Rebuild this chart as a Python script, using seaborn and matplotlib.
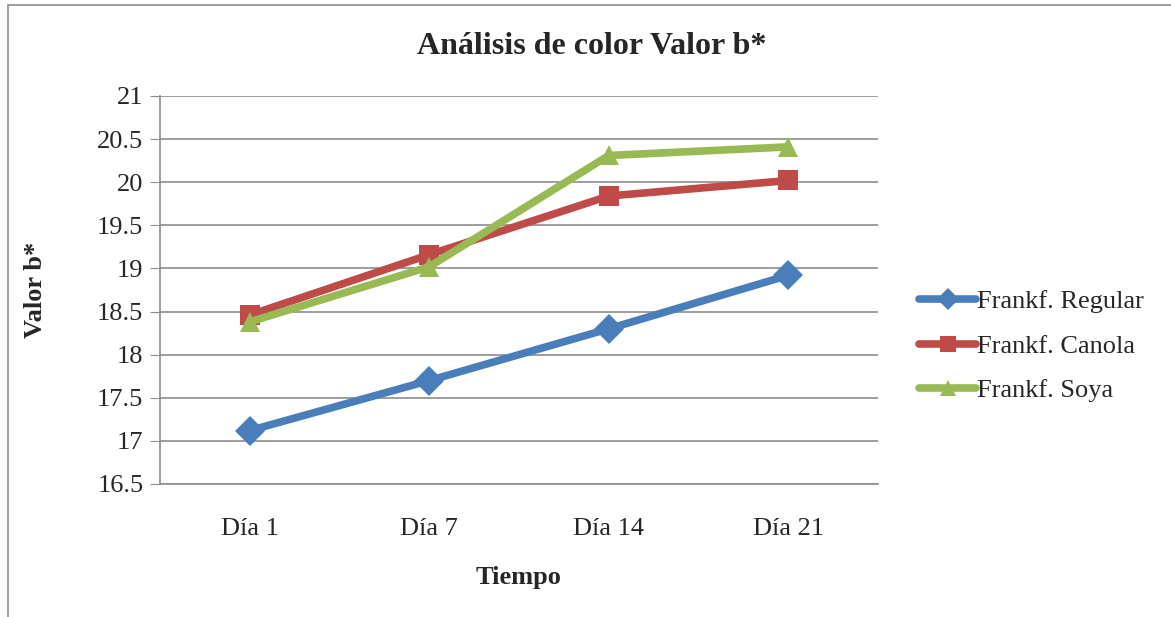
import pandas as pd
import matplotlib.pyplot as plt
import seaborn as sns
from matplotlib.patches import Rectangle

dias = ["Día 1", "Día 7", "Día 14", "Día 21"]
regular = [17.12, 17.70, 18.30, 18.92]
canola = [18.46, 19.16, 19.84, 20.02]
soya = [18.38, 19.02, 20.31, 20.41]
series = ["Frankf. Regular", "Frankf. Canola", "Frankf. Soya"]

colors = {"Frankf. Regular": "#4A7EBB", "Frankf. Canola": "#BE4B48", "Frankf. Soya": "#98B954"}
markers = {"Frankf. Regular": "D", "Frankf. Canola": "s", "Frankf. Soya": "^"}

df = pd.DataFrame({
    "dia": dias * 3,
    "valor": regular + canola + soya,
    "serie": [s for s in series for _ in dias],
})

sns.set_style("white")
plt.rcParams["font.family"] = ["Liberation Serif", "DejaVu Serif"]

fig = plt.figure(figsize=(11.71, 6.17), dpi=100)
ax = fig.add_axes([160 / 1171, 1 - 484 / 617, 718 / 1171, 388 / 617])

# outer chart frame
fig.patches.append(Rectangle((8 / 1171, -0.05), 1.1, 1 - 5 / 617 + 0.05, transform=fig.transFigure,
                             fill=False, edgecolor="#8c8c8c", linewidth=1.2))

sns.lineplot(data=df, x="dia", y="valor", hue="serie", style="serie", palette=colors,
             markers=markers, dashes=False, linewidth=5.5, markersize=15,
             markeredgewidth=0, sort=False, ax=ax, legend=False, zorder=3)

ax.set_xlim(-0.5, 3.5)
ax.set_ylim(16.5, 21)
ax.set_yticks([16.5 + 0.5 * i for i in range(10)])
ax.set_yticklabels(["16.5", "17", "17.5", "18", "18.5", "19", "19.5", "20", "20.5", "21"])
ax.grid(axis="y", color="#8c8c8c", linewidth=1.2)
ax.set_axisbelow(True)
for side in ["top", "right"]:
    ax.spines[side].set_visible(False)
ax.spines["left"].set_color("#8c8c8c")
ax.spines["bottom"].set_color("#8c8c8c")
ax.spines["left"].set_linewidth(1.2)
ax.spines["bottom"].set_linewidth(1.2)
ax.tick_params(axis="y", left=True, length=7, color="#8c8c8c", labelsize=19, pad=5)
ax.tick_params(axis="x", bottom=False, labelsize=19, pad=21)

ax.set_xlabel("Tiempo", fontsize=19, fontweight="bold", labelpad=19)
ax.set_ylabel("Valor b*", fontsize=19, fontweight="bold", labelpad=36)
fig.text(592 / 1171, 1 - 46 / 617, "Análisis de color Valor b*", ha="center", va="center",
         fontsize=23, fontweight="bold")

handles = [plt.Line2D([], [], color=colors[s], marker=markers[s], markersize=11,
                      markeredgewidth=0, linewidth=5.5) for s in series]
fig.legend(handles, series, loc="center left", bbox_to_anchor=(906 / 1171, 1 - 346 / 617),
           frameon=False, fontsize=19, handlelength=2.15, handletextpad=0.05,
           labelspacing=0.8, borderpad=0)

fig.savefig("out.png", dpi=100)
